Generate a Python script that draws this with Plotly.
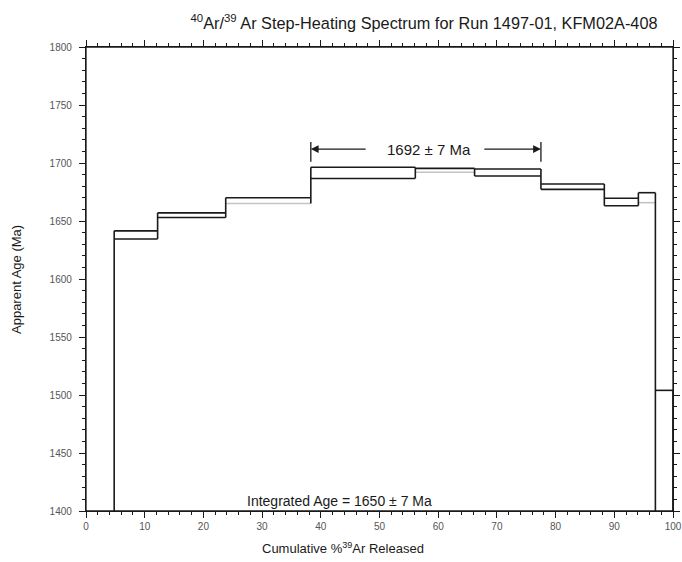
import plotly.graph_objects as go

# Cumulative % 39Ar boundaries of the heating steps
cum_pct = [0, 4.8, 12.2, 23.8, 38.3, 56.1, 66.2, 77.5, 88.3, 94.1, 97.0, 100]
# Apparent age (Ma) and 1-sigma error of each step
ages = [1350, 1638.0, 1655.0, 1667.6, 1691.5, 1693.7, 1691.8, 1679.6, 1666.4, 1670.1, 1420]
errs = [30, 3.5, 2.0, 2.5, 4.8, 1.7, 3.0, 2.3, 3.2, 4.3, 84]
# steps whose lower edge appears light grey
grey_lower = [3, 5, 9]

plateau_first, plateau_last = 4, 6
plateau_label = "1692 ± 7 Ma"
integrated_label = "Integrated Age = 1650 ± 7 Ma"
x_ticks = [0, 10, 20, 30, 40, 50, 60, 70, 80, 90, 100]
y_ticks = [1400, 1450, 1500, 1550, 1600, 1650, 1700, 1750, 1800]

dark_x, dark_y, grey_x, grey_y = [], [], [], []
n = len(ages)
for i in range(n):
    x0, x1 = cum_pct[i], cum_pct[i + 1]
    lo, hi = ages[i] - errs[i], ages[i] + errs[i]
    dark_x += [x0, x1, None]; dark_y += [hi, hi, None]
    if i in grey_lower:
        grey_x += [x0, x1, None]; grey_y += [lo, lo, None]
    else:
        dark_x += [x0, x1, None]; dark_y += [lo, lo, None]
    if i < n - 1:
        lo2, hi2 = ages[i + 1] - errs[i + 1], ages[i + 1] + errs[i + 1]
        dark_x += [x1, x1, None]; dark_y += [min(lo, lo2), max(hi, hi2), None]
    else:
        dark_x += [x1, x1, None]; dark_y += [lo, hi, None]

fig = go.Figure()
fig.add_trace(go.Scatter(x=grey_x, y=grey_y, mode="lines",
                         line=dict(color="#c4c4c4", width=1.6), hoverinfo="skip"))
fig.add_trace(go.Scatter(x=dark_x, y=dark_y, mode="lines",
                         line=dict(color="#1a1a1a", width=1.6), hoverinfo="skip"))

p_start = cum_pct[plateau_first]
p_end = cum_pct[plateau_last + 1]
p_mid = (p_start + p_end) / 2
arrow_y = 1712

W, H = 682, 562
L, R, T, B = 86, 9, 47, 51
PW, PH = W - L - R, H - T - B

font = "Liberation Sans, Arial, sans-serif"
fig.add_annotation(x=p_start, y=arrow_y, ax=p_mid - 10, ay=arrow_y, axref="x", ayref="y",
                   xref="x", yref="y", text="", showarrow=True, arrowhead=2,
                   arrowsize=1.2, arrowwidth=1.3, arrowcolor="#1a1a1a")
fig.add_annotation(x=p_end, y=arrow_y, ax=p_mid + 9.7, ay=arrow_y, axref="x", ayref="y",
                   xref="x", yref="y", text="", showarrow=True, arrowhead=2,
                   arrowsize=1.2, arrowwidth=1.3, arrowcolor="#1a1a1a")
for xv in (p_start, p_end):
    fig.add_shape(type="line", x0=xv, x1=xv, y0=arrow_y - 11, y1=arrow_y + 6,
                  xref="x", yref="y", line=dict(color="#1a1a1a", width=1.3))
# plot frame (duplicates the axis lines so the right edge is always drawn)
fig.add_shape(type="rect", xref="paper", yref="paper", x0=0, x1=1, y0=0, y1=1,
              line=dict(color="#1a1a1a", width=1.3), layer="above")
fig.add_annotation(x=p_mid + 0.5, y=arrow_y, text=plateau_label, showarrow=False,
                   font=dict(family=font, size=15, color="#1a1a1a"))
fig.add_annotation(x=43.1, y=1400, yanchor="bottom", text=integrated_label,
                   showarrow=False, yshift=0,
                   font=dict(family=font, size=14, color="#1a1a1a"))

# axis titles
fig.add_annotation(xref="paper", yref="paper", x=(343 - L) / PW, y=-37 / PH,
                   yanchor="middle", text="Cumulative %<sup>39</sup>Ar Released",
                   showarrow=False, font=dict(family=font, size=13, color="#1a1a1a"))
fig.add_annotation(xref="paper", yref="paper", x=-70 / PW, y=(511 - 280) / PH,
                   xanchor="center", textangle=-90, text="Apparent Age (Ma)",
                   showarrow=False, font=dict(family=font, size=13, color="#1a1a1a"))

axis_common = dict(showgrid=False, zeroline=False, showline=True, linecolor="#1a1a1a",
                   linewidth=1.3, mirror="allticks", ticks="outside", ticklen=6,
                   tickwidth=1.2, tickcolor="#1a1a1a", automargin=False,
                   ticklabeloverflow="allow")
fig.update_xaxes(range=[0, 100], tickvals=x_ticks, ticktext=[str(v) for v in x_ticks],
                 tickfont=dict(family=font, size=10, color="#555"),
                 minor=dict(dtick=2, ticks="outside", ticklen=3, tickcolor="#1a1a1a"),
                 **axis_common)
fig.update_yaxes(range=[1400, 1800], tickvals=y_ticks, ticktext=[str(v) for v in y_ticks],
                 tickfont=dict(family=font, size=10, color="#555"), ticklabelstandoff=5,
                 minor=dict(dtick=10, ticks="outside", ticklen=3, tickcolor="#1a1a1a"),
                 **axis_common)

fig.update_layout(
    width=W, height=H, showlegend=False,
    paper_bgcolor="white", plot_bgcolor="white",
    margin=dict(l=L, r=R, t=T, b=B, autoexpand=False),
    title=dict(text="<sup>40</sup>Ar/<sup>39</sup> Ar Step-Heating Spectrum for Run 1497-01, KFM02A-408",
               x=(424 - L) / PW, xref="paper", xanchor="center",
               y=1 - 23 / H, yanchor="middle",
               font=dict(family=font, size=16.3, color="#1a1a1a")),
)
fig.write_html("out.html", config={"displayModeBar": False},
               post_script="document.body.style.margin='0';document.body.style.overflow='hidden';")
